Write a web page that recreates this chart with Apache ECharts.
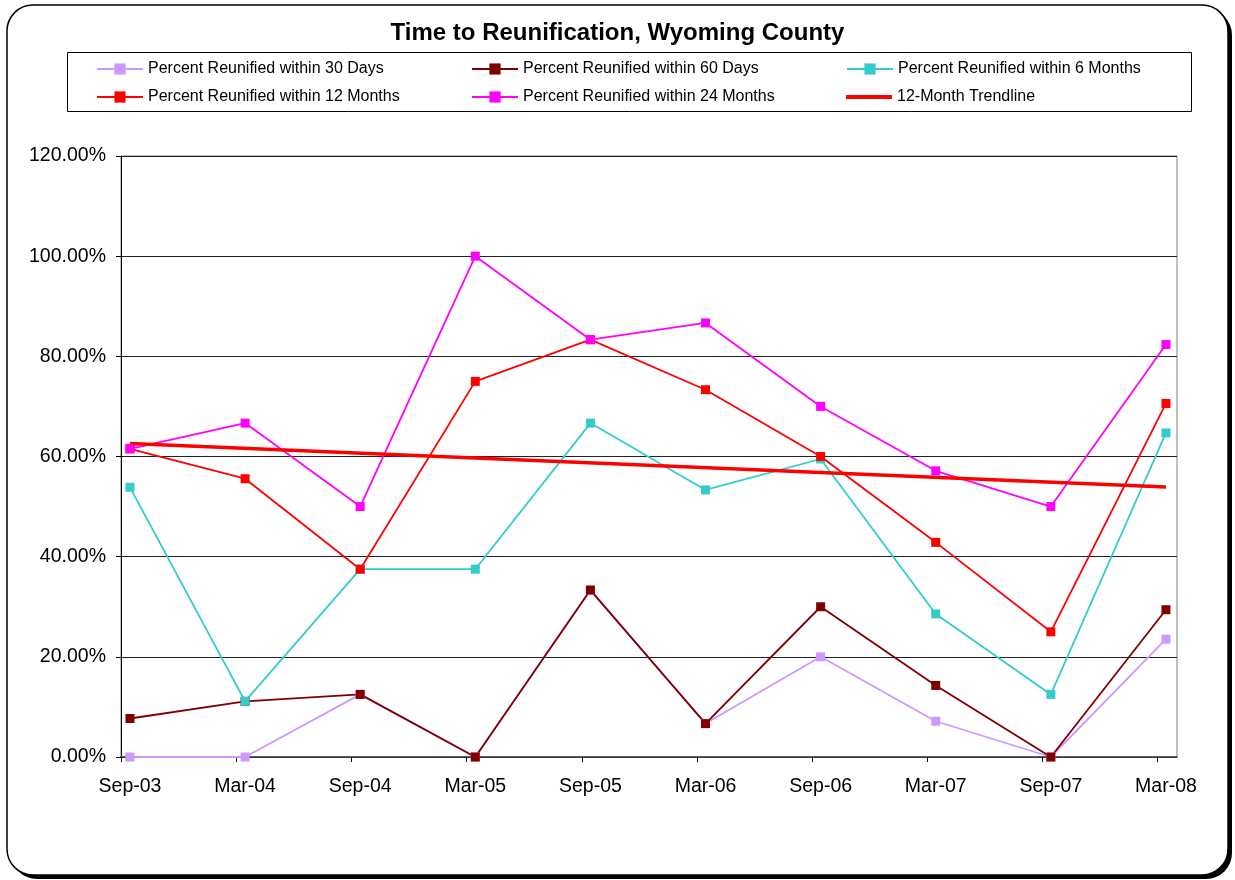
<!DOCTYPE html>
<html>
<head>
<meta charset="utf-8">
<title>Time to Reunification, Wyoming County</title>
<script src="https://cdn.jsdelivr.net/npm/echarts@6/dist/echarts.min.js"></script>
<style>
  html, body { margin: 0; padding: 0; background: #fff; }
  #main { width: 1235px; height: 880px; }
</style>
</head>
<body>
<div id="main"></div>
<script>
// data (percent)
var periods = ['Sep-03', 'Mar-04', 'Sep-04', 'Mar-05', 'Sep-05', 'Mar-06', 'Sep-06', 'Mar-07', 'Sep-07', 'Mar-08']
var within30Days = [0, 0, 12.5, 0, 33.33, 6.67, 20, 7.14, 0, 23.53]
var within60Days = [7.69, 11.11, 12.5, 0, 33.33, 6.67, 30, 14.29, 0, 29.41]
var within6Months = [53.85, 11.11, 37.5, 37.5, 66.67, 53.33, 59.5, 28.57, 12.5, 64.71]
var within12Months = [61.54, 55.56, 37.5, 75, 83.33, 73.33, 60, 42.86, 25, 70.59]
var within24Months = [61.54, 66.67, 50, 100, 83.33, 86.67, 70, 57.14, 50, 82.35]
// trendline: only the two end values, joined straight
var trend12Months = [62.6, null, null, null, null, null, null, null, null, 53.9]
var yTicks = [0, 20, 40, 60, 80, 100, 120]

var font = '"Liberation Sans", Arial, sans-serif'

function pairs (arr) {
  var out = []
  arr.forEach(function (v, i) {
    if (v !== null) out.push([i, v])
  })
  return out
}

function lineSeries (name, values, color) {
  return {
    name: name,
    type: 'line',
    data: pairs(values),
    symbol: 'rect',
    symbolSize: 9,
    showAllSymbol: true,
    color: color,
    lineStyle: { width: 1.8, color: color },
    itemStyle: { color: color },
    emphasis: { disabled: true }
  }
}

var names = [
  'Percent Reunified within 30 Days',
  'Percent Reunified within 60 Days',
  'Percent Reunified within 6 Months',
  'Percent Reunified within 12 Months',
  'Percent Reunified within 24 Months',
  '12-Month Trendline'
]
var legendPos = [[96, 61], [471, 61], [846, 61], [96, 89], [471, 89], [846, 89]]

var legends = names.map(function (n, i) {
  var isTrend = i === names.length - 1
  return {
    data: [isTrend ? { name: n, icon: 'rect' } : n],
    left: legendPos[i][0],
    top: legendPos[i][1],
    padding: 0,
    itemWidth: 46,
    itemHeight: isTrend ? 4 : 14,
    selectedMode: false,
    textStyle: { fontFamily: font, fontSize: 16, color: '#000' }
  }
})

var chart = echarts.init(document.getElementById('main'))
var option = {
  animation: false,
  backgroundColor: '#fff',
  title: {
    text: 'Time to Reunification, Wyoming County',
    left: 'center',
    top: 16,
    textStyle: { fontFamily: font, fontSize: 24, fontWeight: 'bold', color: '#000' }
  },
  legend: legends,
  graphic: [
    // shadow + rounded chart border
    { type: 'rect', z: -2, shape: { x: 11, y: 9, width: 1221, height: 870, r: 26 }, style: { fill: '#000' } },
    { type: 'rect', z: -1, shape: { x: 7, y: 5, width: 1221, height: 870, r: 26 }, style: { fill: '#fff', stroke: '#000', lineWidth: 1.5 } },
    // legend frame
    { type: 'rect', z: -1, shape: { x: 67.5, y: 52.5, width: 1124, height: 59 }, style: { fill: '#fff', stroke: '#000', lineWidth: 1 } }
  ],
  grid: {
    left: 121,
    right: 58,
    top: 156,
    bottom: 123,
    show: true,
    borderColor: '#808080',
    borderWidth: 1
  },
  xAxis: {
    type: 'value',
    min: -0.078,
    max: 9.096,
    axisLine: { lineStyle: { color: '#404040', width: 1.5 } },
    axisTick: {
      show: true,
      length: 5,
      customValues: periods.map(function (p, i) { return i - 0.075 }),
      lineStyle: { color: '#000' }
    },
    splitLine: { show: false },
    axisLabel: {
      customValues: periods.map(function (p, i) { return i }),
      formatter: function (v) { return periods[Math.round(v)] },
      margin: 20,
      fontFamily: font,
      fontSize: 19.5,
      color: '#000'
    }
  },
  yAxis: {
    type: 'value',
    min: yTicks[0],
    max: yTicks[yTicks.length - 1],
    interval: 20,
    axisLine: { show: true, onZero: false, lineStyle: { color: '#000', width: 1 } },
    axisTick: { show: true, length: 5, lineStyle: { color: '#000' } },
    splitLine: { show: true, lineStyle: { color: '#222', width: 1 } },
    axisLabel: {
      formatter: function (v) { return v.toFixed(2) + '%' },
      margin: 15,
      fontFamily: font,
      fontSize: 19.5,
      color: '#000'
    }
  },
  series: [
    lineSeries(names[0], within30Days, '#CC99FF'),
    lineSeries(names[1], within60Days, '#800000'),
    lineSeries(names[2], within6Months, '#33CCCC'),
    lineSeries(names[3], within12Months, '#FF0000'),
    lineSeries(names[4], within24Months, '#FF00FF'),
    {
      name: names[5],
      type: 'line',
      data: pairs(trend12Months),
      symbol: 'none',
      color: '#FF0000',
      itemStyle: { color: '#FF0000' },
      lineStyle: { width: 3.5, color: '#FF0000' },
      emphasis: { disabled: true }
    }
  ]
}
chart.setOption(option)
</script>
</body>
</html>
